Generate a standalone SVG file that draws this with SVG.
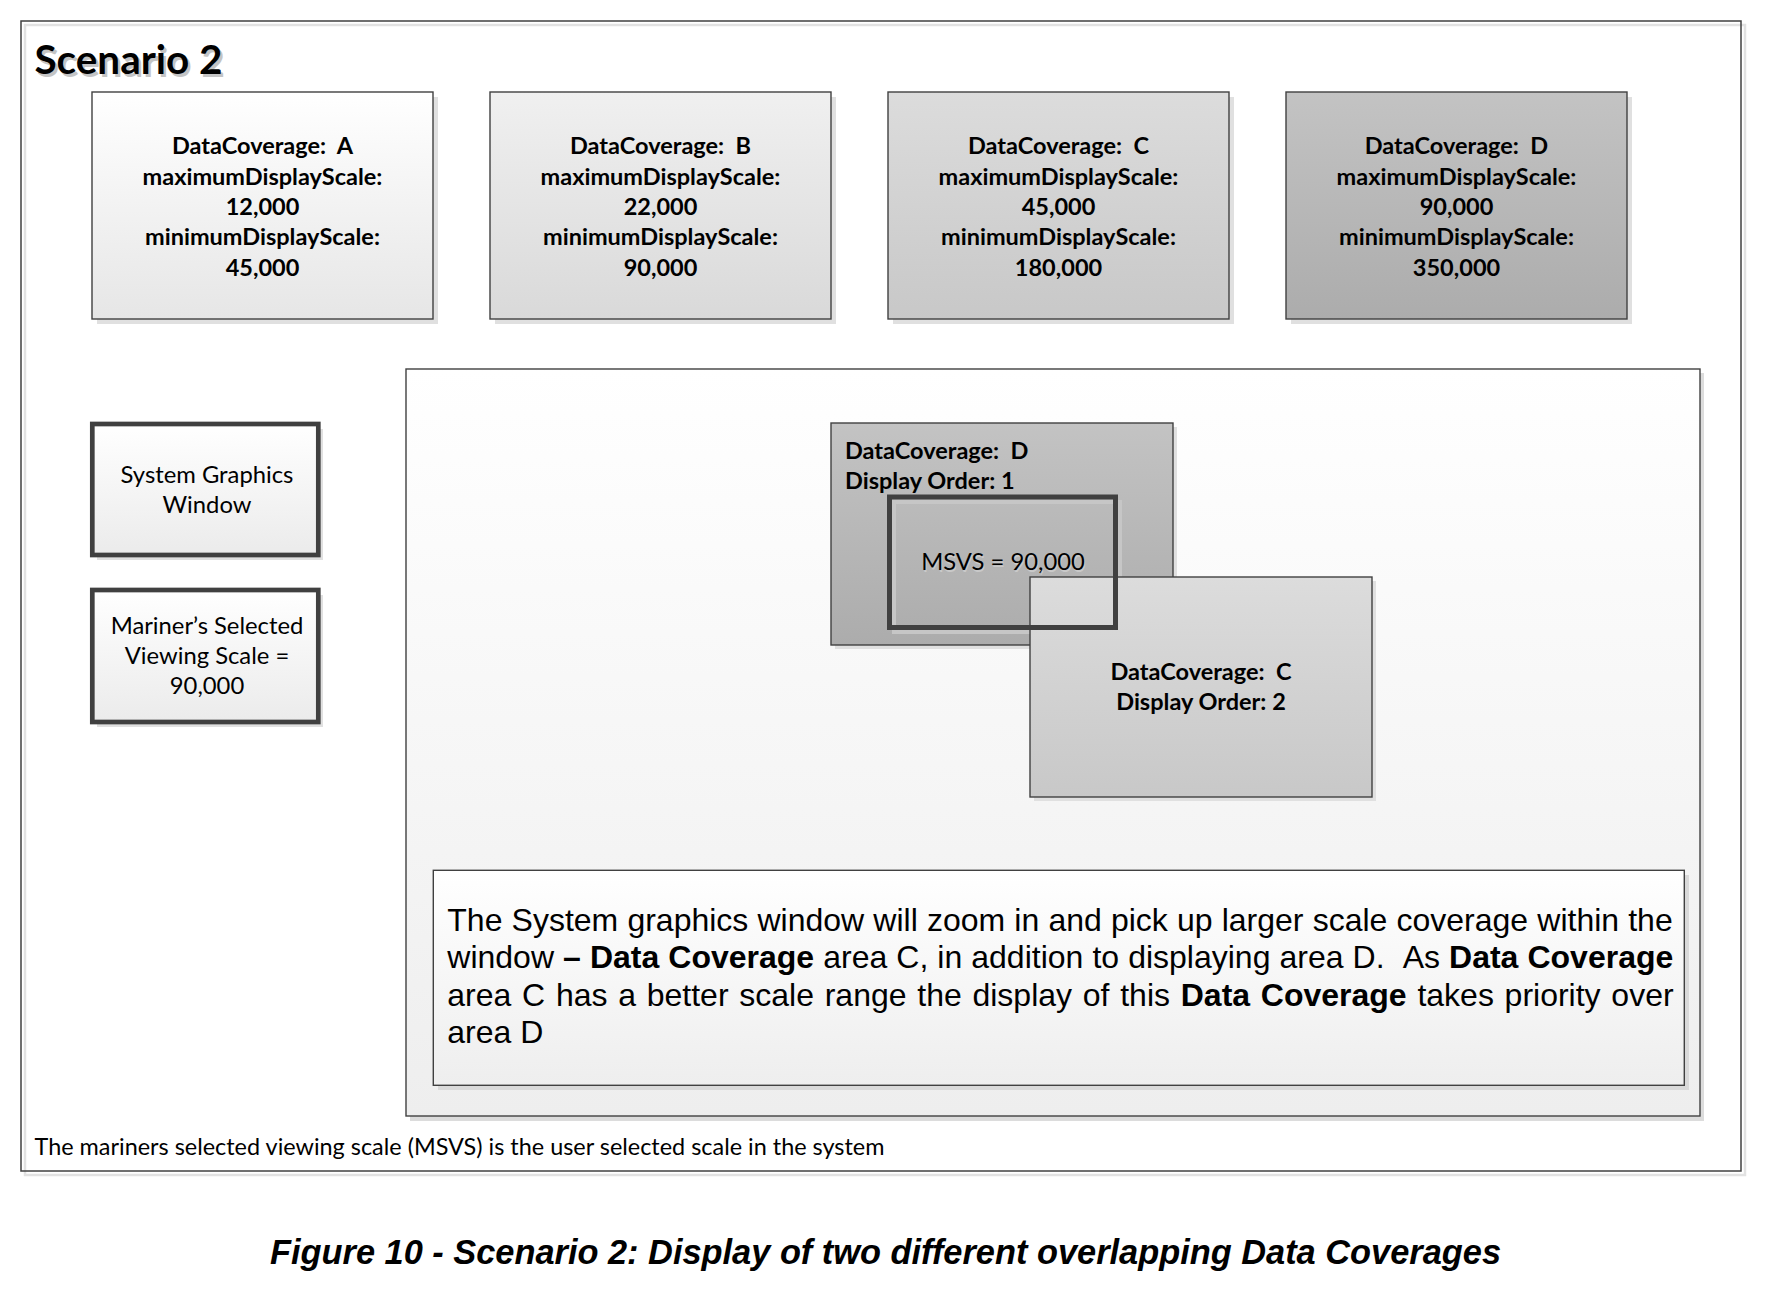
<svg xmlns="http://www.w3.org/2000/svg" width="1774" height="1304" viewBox="0 0 1774 1304">
<defs>
<linearGradient id="gA" x1="0" y1="0" x2="0" y2="1"><stop offset="0" stop-color="#ffffff"/><stop offset="1" stop-color="#e6e6e6"/></linearGradient>
<linearGradient id="gB" x1="0" y1="0" x2="0" y2="1"><stop offset="0" stop-color="#f0f0f0"/><stop offset="1" stop-color="#d9d9d9"/></linearGradient>
<linearGradient id="gC" x1="0" y1="0" x2="0" y2="1"><stop offset="0" stop-color="#dcdcdc"/><stop offset="1" stop-color="#c8c8c8"/></linearGradient>
<linearGradient id="gD" x1="0" y1="0" x2="0" y2="1"><stop offset="0" stop-color="#c3c3c3"/><stop offset="1" stop-color="#acacac"/></linearGradient>
<linearGradient id="gL" x1="0" y1="0" x2="0" y2="1"><stop offset="0" stop-color="#ffffff"/><stop offset="1" stop-color="#ebebeb"/></linearGradient>
<linearGradient id="gP" x1="0" y1="0" x2="0" y2="1"><stop offset="0" stop-color="#ffffff"/><stop offset="1" stop-color="#eeeeee"/></linearGradient>
</defs>
<style>
.box{stroke:#404040;stroke-width:1.4}
.thick{fill:none;stroke:#404040;stroke-width:5}
.shadow{fill:#e0e0e0}
.cb{font-family:Lato,"Open Sans",sans-serif;font-weight:bold;font-size:23.5px;fill:#000}
.cr{font-family:Lato,"Open Sans",sans-serif;font-size:23.8px;fill:#000}
.mid{text-anchor:middle}
.desc{font-family:"Liberation Sans",Arial,sans-serif;font-size:32px;fill:#000;font-kerning:none}
.b{font-weight:bold}
</style>
<rect width="1774" height="1304" fill="#ffffff"/>

<g id="frame">
<rect x="25" y="25" width="1720" height="1150" fill="none" stroke="#e2e2e2" stroke-width="2.5"/>
<rect x="21" y="21" width="1720" height="1150" fill="none" stroke="#404040" stroke-width="1.5"/>
<text x="37" y="77" font-family="Lato,'Open Sans',sans-serif" font-weight="bold" font-size="41" fill="#c4c4c4" textLength="188" lengthAdjust="spacingAndGlyphs">Scenario 2</text>
<text x="34.5" y="74" font-family="Lato,'Open Sans',sans-serif" font-weight="bold" font-size="41" fill="#000" textLength="188" lengthAdjust="spacingAndGlyphs">Scenario 2</text>
</g>

<g id="coverageA">
<rect class="shadow" x="97" y="97" width="341" height="227"/>
<rect class="box" x="92" y="92" width="341" height="227" fill="url(#gA)"/>
<text class="cb mid" x="262.5" y="154">DataCoverage:&#160; A</text>
<text class="cb mid" x="262.5" y="184.5">maximumDisplayScale:</text>
<text class="cb mid" x="262.5" y="215">12,000</text>
<text class="cb mid" x="262.5" y="245">minimumDisplayScale:</text>
<text class="cb mid" x="262.5" y="275.5">45,000</text>
</g>

<g id="coverageB">
<rect class="shadow" x="495" y="97" width="341" height="227"/>
<rect class="box" x="490" y="92" width="341" height="227" fill="url(#gB)"/>
<text class="cb mid" x="660.5" y="154">DataCoverage:&#160; B</text>
<text class="cb mid" x="660.5" y="184.5">maximumDisplayScale:</text>
<text class="cb mid" x="660.5" y="215">22,000</text>
<text class="cb mid" x="660.5" y="245">minimumDisplayScale:</text>
<text class="cb mid" x="660.5" y="275.5">90,000</text>
</g>

<g id="coverageC">
<rect class="shadow" x="893" y="97" width="341" height="227"/>
<rect class="box" x="888" y="92" width="341" height="227" fill="url(#gC)"/>
<text class="cb mid" x="1058.5" y="154">DataCoverage:&#160; C</text>
<text class="cb mid" x="1058.5" y="184.5">maximumDisplayScale:</text>
<text class="cb mid" x="1058.5" y="215">45,000</text>
<text class="cb mid" x="1058.5" y="245">minimumDisplayScale:</text>
<text class="cb mid" x="1058.5" y="275.5">180,000</text>
</g>

<g id="coverageD">
<rect class="shadow" x="1291" y="97" width="341" height="227"/>
<rect class="box" x="1286" y="92" width="341" height="227" fill="url(#gD)"/>
<text class="cb mid" x="1456.5" y="154">DataCoverage:&#160; D</text>
<text class="cb mid" x="1456.5" y="184.5">maximumDisplayScale:</text>
<text class="cb mid" x="1456.5" y="215">90,000</text>
<text class="cb mid" x="1456.5" y="245">minimumDisplayScale:</text>
<text class="cb mid" x="1456.5" y="275.5">350,000</text>
</g>

<g id="systemGraphicsWindow">
<rect class="shadow" x="97" y="429" width="226" height="131"/>
<rect x="92.3" y="424" width="226" height="131" fill="url(#gL)" stroke="#404040" stroke-width="4.7"/>
<text class="cr mid" x="207" y="483">System Graphics</text>
<text class="cr mid" x="207" y="513">Window</text>
</g>

<g id="marinersScale">
<rect class="shadow" x="97" y="595" width="226" height="132"/>
<rect x="92.3" y="590" width="226" height="132" fill="url(#gL)" stroke="#404040" stroke-width="4.7"/>
<text class="cr mid" x="207" y="634">Mariner’s Selected</text>
<text class="cr mid" x="207" y="664">Viewing Scale =</text>
<text class="cr mid" x="207" y="694">90,000</text>
</g>

<g id="displayPanel">
<rect x="410" y="373" width="1294" height="748" fill="#dcdcdc"/>
<rect class="box" x="406" y="369" width="1294" height="747" fill="url(#gP)"/>
</g>

<g id="innerD">
<rect class="shadow" x="835" y="427" width="342" height="222"/>
<rect class="box" x="831" y="423" width="342" height="222" fill="url(#gD)"/>
<text class="cb" x="845" y="458.5">DataCoverage:&#160; D</text>
<text class="cb" x="845" y="488.5">Display Order: 1</text>
</g>

<g id="msvsText">
<rect x="894" y="502" width="226" height="130" fill="none" stroke="#c6c6c6" stroke-width="4"/>
<text class="cr mid" x="1004" y="571.5" style="fill:#c9c9c9">MSVS = 90,000</text>
<text class="cr mid" x="1003" y="570">MSVS = 90,000</text>
</g>

<g id="innerC">
<rect class="shadow" x="1034" y="581" width="342" height="220"/>
<rect class="box" x="1030" y="577" width="342" height="220" fill="url(#gC)"/>
<text class="cb mid" x="1201" y="680">DataCoverage:&#160; C</text>
<text class="cb mid" x="1201" y="710">Display Order: 2</text>
</g>

<g id="msvsWindow">
<rect class="thick" x="889.5" y="497" width="226" height="130.5"/>
</g>

<g id="description">
<rect x="438" y="875" width="1251" height="215" fill="#d9d9d9"/>
<rect class="box" x="433.3" y="870.3" width="1251" height="215" fill="url(#gP)"/>
<text class="desc" x="447.3" y="930.5" word-spacing="0.25">The System graphics window will zoom in and pick up larger scale coverage within the</text>
<text class="desc" x="447.3" y="968" word-spacing="0.15">window <tspan class="b">– Data Coverage</tspan> area C, in addition to displaying area D.&#160; As <tspan class="b">Data Coverage</tspan></text>
<text class="desc" x="447.3" y="1005.5" word-spacing="1.83">area C has a better scale range the display of this <tspan class="b">Data Coverage</tspan> takes priority over</text>
<text class="desc" x="447.3" y="1043">area D</text>
</g>

<g id="footnote">
<text x="34.5" y="1154.5" font-family="Lato,'Open Sans',sans-serif" font-size="22.5" fill="#000" textLength="850" lengthAdjust="spacingAndGlyphs">The mariners selected viewing scale (MSVS) is the user selected scale in the system</text>
</g>

<g id="caption">
<text x="270" y="1264" font-family="'Liberation Sans',Arial,sans-serif" font-weight="bold" font-style="italic" font-size="34.3" fill="#000" textLength="1231" lengthAdjust="spacingAndGlyphs">Figure 10 - Scenario 2: Display of two different overlapping Data Coverages</text>
</g>

<g id="connectors"/>
</svg>
